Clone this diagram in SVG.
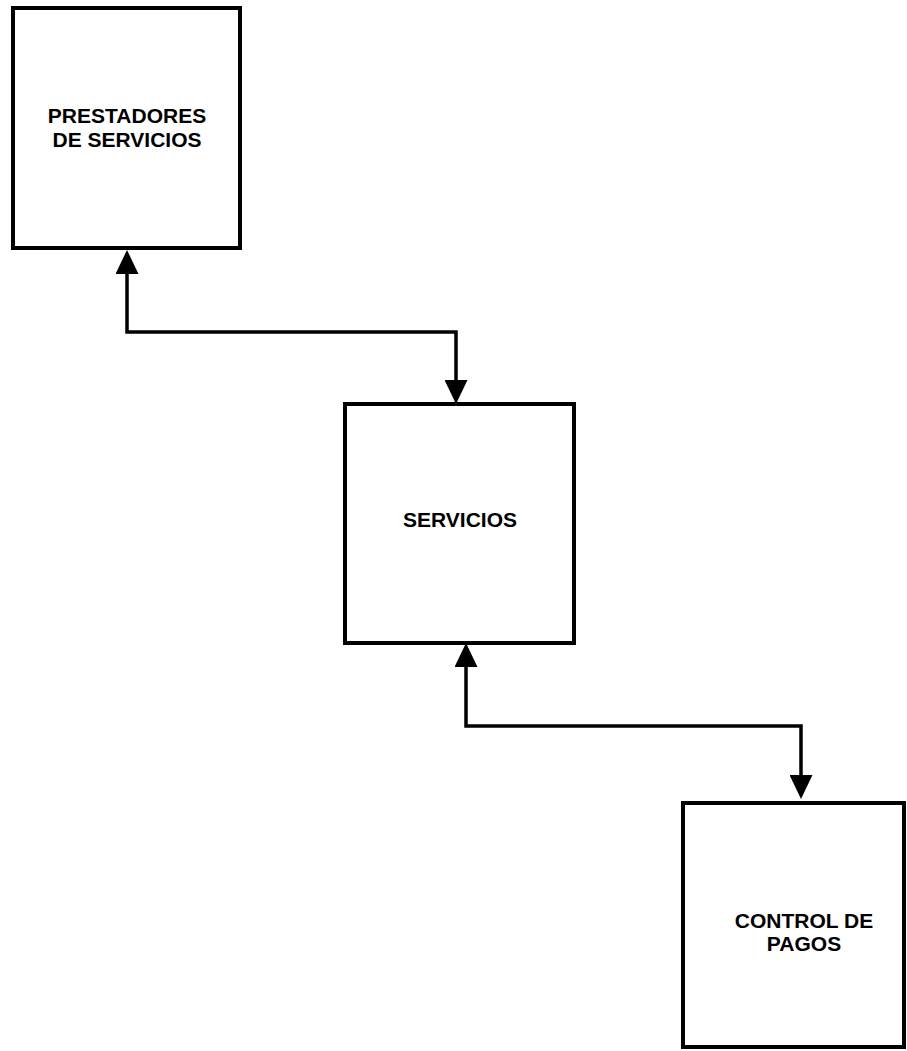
<svg xmlns="http://www.w3.org/2000/svg" width="907" height="1051" viewBox="0 0 907 1051">
  <style>
    .box { fill: #fff; stroke: #000; stroke-width: 4; }
    .label { font-family: "Liberation Sans", Arial, sans-serif; font-weight: bold; font-size: 21px; fill: #000; text-anchor: middle; }
    .link { fill: none; stroke: #000; stroke-width: 3.5; stroke-linejoin: miter; marker-start: url(#head); marker-end: url(#head); }
  </style>
  <defs>
    <marker id="head" viewBox="0 0 24 23" refX="0" refY="11.5" markerWidth="24" markerHeight="23" markerUnits="userSpaceOnUse" orient="auto-start-reverse">
      <path d="M0,0 L24,11.5 L0,23 Z" fill="#000"/>
    </marker>
  </defs>

  <rect width="907" height="1051" fill="#fff"/>

  <g id="prestadores">
    <rect class="box" x="13" y="8" width="227" height="240"/>
    <text class="label" x="127" y="123">PRESTADORES</text>
    <text class="label" x="127" y="147">DE SERVICIOS</text>
  </g>

  <g id="servicios">
    <rect class="box" x="345" y="404" width="229" height="239"/>
    <text class="label" x="460" y="527">SERVICIOS</text>
  </g>

  <g id="control-pagos">
    <rect class="box" x="683" y="803" width="221" height="244"/>
    <text class="label" x="804" y="928">CONTROL DE</text>
    <text class="label" x="804" y="951">PAGOS</text>
  </g>

  <g id="connectors">
    <path class="link" d="M127,274 V332 H456 V380"/>
    <path class="link" d="M466,667 V726 H801 V775"/>
  </g>
</svg>
